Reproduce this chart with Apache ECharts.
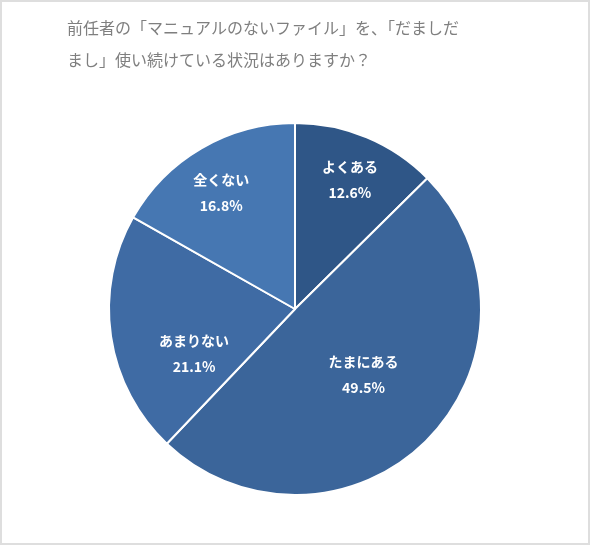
<!DOCTYPE html>
<html>
<head>
<meta charset="utf-8">
<script src="https://cdn.jsdelivr.net/npm/echarts@6/dist/echarts.min.js"></script>
<style>
  html, body { margin: 0; padding: 0; background: #fff; }
  #chart { width: 590px; height: 545px; box-sizing: border-box; border: 2px solid #dedede; }
</style>
</head>
<body>
<div id="chart"></div>
<script>
const titleLines = ['前任者の「マニュアルのないファイル」を、「だましだ', 'まし」使い続けている状況はありますか？']
const categories = ['よくある', 'たまにある', 'あまりない', '全くない']
const shares = [12.6, 49.5, 21.1, 16.8]
const sliceColors = ['#2f5687', '#3b659a', '#3f6ba4', '#4677b2']
// which labels sit further out (Excel best-fit placement)
const outerLabel = [true, false, false, true]
const labelNudge = [[0, 2], [0, -2], [-6, 31], [-2, 7]]

const chart = echarts.init(document.getElementById('chart'))
const font = '"Noto Sans CJK JP", "Noto Sans", sans-serif'
const center = [293, 307]
const R = 186

const labelStyle = {
  color: '#fff',
  fontFamily: font,
  fontSize: 14,
  fontWeight: 'bold',
  lineHeight: 26,
  formatter: p => p.name + '\n' + p.value.toFixed(1) + '%'
}

chart.setOption({
  backgroundColor: '#fff',
  animation: false,
  title: {
    text: titleLines.join('\n'),
    left: 60,
    top: 5,
    textStyle: {
      color: '#7f7f7f',
      fontFamily: font,
      fontSize: 16,
      fontWeight: 'normal',
      lineHeight: 32
    }
  },
  series: [
    {
      type: 'pie',
      center: center,
      radius: [0, R],
      startAngle: 90,
      clockwise: true,
      itemStyle: { borderColor: '#fff', borderWidth: 2 },
      label: Object.assign({ position: 'inside' }, labelStyle),
      labelLine: { show: false },
      emphasis: { disabled: true },
      data: categories.map((c, i) => ({
        name: c,
        value: shares[i],
        itemStyle: { color: sliceColors[i] },
        label: { show: !outerLabel[i], offset: labelNudge[i] }
      }))
    },
    {
      // transparent ring only used to place the outer labels at 0.75R
      type: 'pie',
      center: center,
      radius: [R / 2, R],
      startAngle: 90,
      clockwise: true,
      silent: true,
      itemStyle: { color: 'rgba(0,0,0,0)', borderWidth: 0 },
      label: Object.assign({ position: 'inside' }, labelStyle),
      labelLine: { show: false },
      data: categories.map((c, i) => ({
        name: c,
        value: shares[i],
        label: { show: outerLabel[i], offset: labelNudge[i] }
      }))
    }
  ]
})
</script>
</body>
</html>
